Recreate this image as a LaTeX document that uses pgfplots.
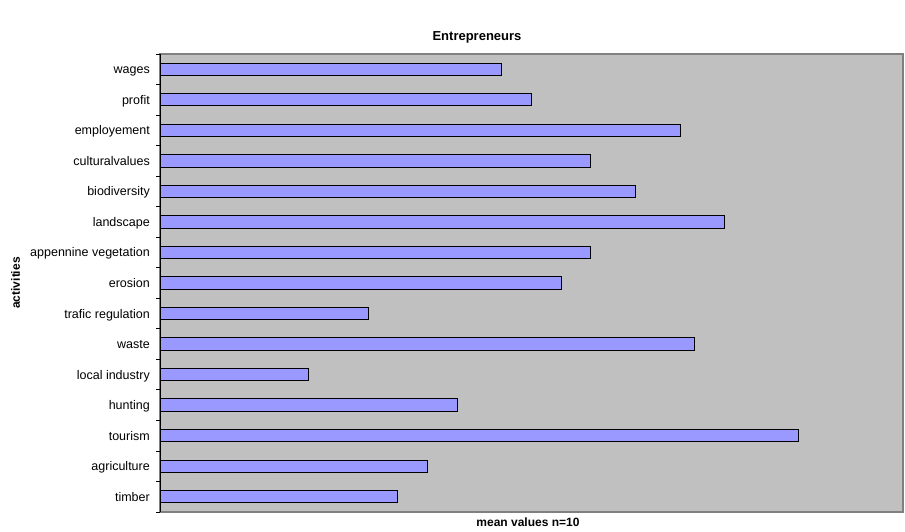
\documentclass[border=0pt]{standalone}
\usepackage{fontspec}
\setmainfont{Liberation Sans}
\usepackage{pgfplots}
\pgfplotsset{compat=1.18}
\definecolor{plotgray}{HTML}{C0C0C0}
\definecolor{framegray}{HTML}{808080}
\definecolor{barblue}{HTML}{9999FF}
\begin{document}
\begin{tikzpicture}
\begin{axis}[
  scale only axis, width=743bp, height=458bp,
  xmin=0, xmax=5, ymin=-0.5, ymax=14.5,
  xbar, bar width=12.3bp,
  xtick=\empty,
  ytick={0,...,14},
  yticklabels={timber,agriculture,tourism,hunting,local industry,waste,trafic regulation,erosion,appennine vegetation,landscape,biodiversity,culturalvalues,employement,profit,wages},
  minor ytick={-0.5,0.5,...,14.5},
  major tick length=0pt, minor tick length=4bp,
  tick align=outside, ytick pos=left,
  minor tick style={black, line width=0.8bp},
  yticklabel style={font=\fontsize{12.5bp}{14bp}\selectfont, inner sep=0pt, anchor=base east, xshift=-10bp, yshift=-4.5bp},
  axis line style={draw=none},
  axis background/.style={fill=plotgray, draw=framegray, line width=1.2bp},
  clip=false,
]
\addplot[fill=barblue, draw=black, line width=1bp] coordinates {
  (1.6,0) (1.8,1) (4.3,2) (2.0,3) (1.0,4) (3.6,5) (1.4,6) (2.7,7)
  (2.9,8) (3.8,9) (3.2,10) (2.9,11) (3.5,12) (2.5,13) (2.3,14)};
\draw[black, line width=0.9bp] (rel axis cs:0,0) -- (rel axis cs:0,1);
\end{axis}
\node[font=\fontsize{13bp}{15bp}\selectfont\bfseries, anchor=base] at ([xshift=317bp, yshift=13bp]current axis.north west) {Entrepreneurs};
\node[font=\fontsize{12bp}{14bp}\selectfont\bfseries, anchor=base] at ([xshift=368bp, yshift=-14bp]current axis.south west) {mean values n=10};
\node[font=\fontsize{12bp}{14bp}\selectfont\bfseries, anchor=base, rotate=90] at ([xshift=-140bp]current axis.west) {activities};
\path[use as bounding box] ([xshift=-160bp, yshift=-19bp]current axis.south west) rectangle ([xshift=2bp, yshift=54bp]current axis.north east);
\end{tikzpicture}
\end{document}
